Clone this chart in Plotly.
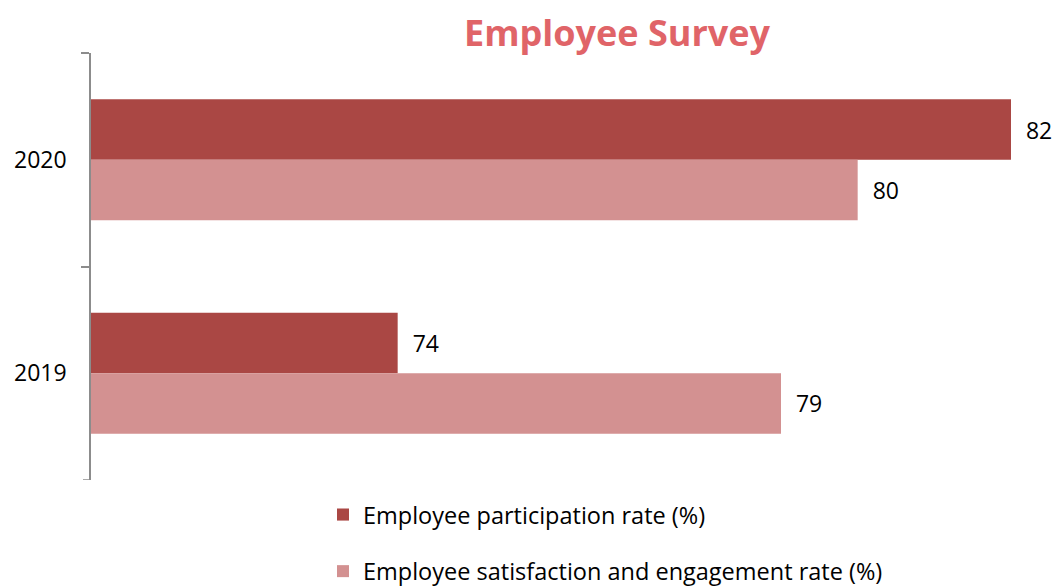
import plotly.graph_objects as go

years = ["2020", "2019"]
participation = [82, 74]
satisfaction = [80, 79]
series_names = ["Employee participation rate (%)", "Employee satisfaction and engagement rate (%)"]

dark_red = "#AA4744"
light_red = "#D39191"
axis_grey = "#8C8C8C"
font_family = "Open Sans, Lato, sans-serif"

fig = go.Figure()
fig.add_trace(go.Bar(
    y=years, x=participation, orientation="h", name=series_names[0],
    marker=dict(color=dark_red, line=dict(width=0)),
    text=participation, texttemplate="\u00a0\u00a0%{x}", textposition="outside",
    textfont=dict(size=23, color="#000000", family=font_family),
    cliponaxis=False, legendgroup="a",
))
fig.add_trace(go.Bar(
    y=years, x=satisfaction, orientation="h", name=series_names[1],
    marker=dict(color=light_red, line=dict(width=0)),
    text=satisfaction, texttemplate="\u00a0\u00a0%{x}", textposition="outside",
    textfont=dict(size=23, color="#000000", family=font_family),
    cliponaxis=False, legendgroup="b",
))

# closing boundary tick at the bottom end of the category axis
plot_w = 1056 - 91 - 45
fig.add_shape(
    type="line", xref="paper", yref="y",
    x0=-8 / plot_w, x1=0, y0=len(years) - 0.5, y1=len(years) - 0.5,
    line=dict(color=axis_grey, width=1.5),
)

fig.update_layout(
    width=1056, height=586,
    margin=dict(l=91, r=45, t=53, b=106, autoexpand=False),
    paper_bgcolor="white", plot_bgcolor="white",
    barmode="group", bargap=0.434, bargroupgap=0,
    font=dict(family=font_family, color="#000000"),
    title=dict(
        text="<b>Employee Survey</b>", x=617 / 1056, xref="container", xanchor="center",
        y=1 - 33 / 586, yref="container", yanchor="middle",
        font=dict(size=36, color="#E06468", family=font_family),
    ),
    xaxis=dict(range=[70, 82], visible=False, fixedrange=True),
    yaxis=dict(
        type="category", categoryorder="array", categoryarray=years,
        range=[1.5, -0.5],
        showline=True, linecolor=axis_grey, linewidth=1.5,
        ticks="outside", tickson="boundaries", ticklen=8, tickcolor=axis_grey, tickwidth=1.5,
        tickfont=dict(size=23, color="#000000"), ticklabelstandoff=18,
        showgrid=False, zeroline=False,
    ),
    legend=dict(
        orientation="v", x=(323 - 91) / 920, xanchor="left", y=-0.03, yanchor="top",
        font=dict(size=23.5, color="#000000"), traceorder="grouped", tracegroupgap=23,
        bgcolor="rgba(0,0,0,0)",
    ),
    showlegend=True,
)

fig.write_html("out.html")
